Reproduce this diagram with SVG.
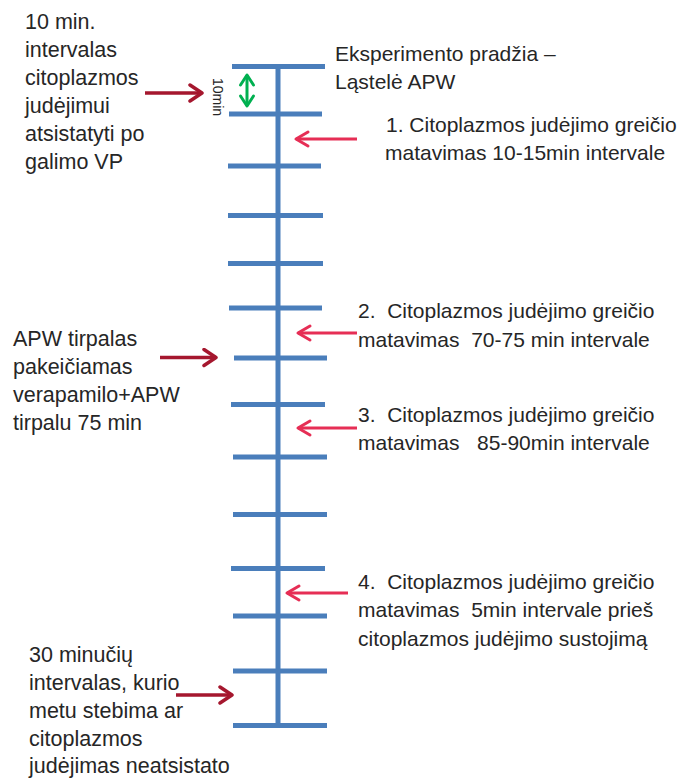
<svg xmlns="http://www.w3.org/2000/svg" width="685" height="778" viewBox="0 0 685 778">
<defs>
<style>
.t{font-family:"Liberation Sans",Arial,sans-serif;font-size:21px;fill:#262626;white-space:pre}
.tl{font-size:21.5px}
.tick{stroke:#4A7EBB;stroke-width:5;fill:none}
.dr{stroke:#A5172E;stroke-width:3.5;fill:none}
.pk{stroke:#E62E55;stroke-width:3;fill:none}
.gr{stroke:#00B050;stroke-width:3;fill:none}
</style>
<marker id="mdr" markerUnits="userSpaceOnUse" markerWidth="20" markerHeight="20" viewBox="-14 -10 16 20" refX="0" refY="0" orient="auto">
<path d="M-12,-8 L0,0 L-12,8" fill="none" stroke="#A5172E" stroke-width="3.5" stroke-linecap="round" stroke-linejoin="round"/>
</marker>
<marker id="mpk" markerUnits="userSpaceOnUse" markerWidth="20" markerHeight="20" viewBox="-14 -10 16 20" refX="0" refY="0" orient="auto">
<path d="M-12,-7 L0,0 L-12,7" fill="none" stroke="#E62E55" stroke-width="3" stroke-linecap="round" stroke-linejoin="round"/>
</marker>
<marker id="mgr" markerUnits="userSpaceOnUse" markerWidth="20" markerHeight="20" viewBox="-14 -10 16 20" refX="0" refY="0" orient="auto-start-reverse">
<path d="M-10,-6.5 L0,0 L-10,6.5" fill="none" stroke="#00B050" stroke-width="3" stroke-linecap="round" stroke-linejoin="round"/>
</marker>
</defs>
<rect width="685" height="778" fill="#ffffff"/>

<g id="timeline">
<line class="tick" x1="278" y1="66" x2="278" y2="726"/>
<line class="tick" x1="232" y1="66.5" x2="325" y2="66.5"/>
<line class="tick" x1="229" y1="114" x2="322" y2="114"/>
<line class="tick" x1="228" y1="166" x2="321" y2="166"/>
<line class="tick" x1="228" y1="215.5" x2="323" y2="215.5"/>
<line class="tick" x1="228" y1="263.5" x2="323" y2="263.5"/>
<line class="tick" x1="229" y1="308" x2="322" y2="308"/>
<line class="tick" x1="234" y1="358" x2="327" y2="358"/>
<line class="tick" x1="231" y1="404.5" x2="325" y2="404.5"/>
<line class="tick" x1="233" y1="457" x2="327" y2="457"/>
<line class="tick" x1="233" y1="514.5" x2="327" y2="514.5"/>
<line class="tick" x1="231" y1="568.5" x2="325" y2="568.5"/>
<line class="tick" x1="233" y1="616" x2="327" y2="616"/>
<line class="tick" x1="233" y1="671" x2="327" y2="671"/>
<line class="tick" x1="233" y1="725.5" x2="327" y2="725.5"/>
</g>

<g id="connectors">
<line class="gr" x1="247" y1="75" x2="247" y2="106" marker-start="url(#mgr)" marker-end="url(#mgr)"/>
<line class="dr" x1="145" y1="93" x2="202" y2="93" marker-end="url(#mdr)"/>
<line class="dr" x1="160" y1="357.5" x2="216" y2="357.5" marker-end="url(#mdr)"/>
<line class="dr" x1="176" y1="695" x2="232" y2="695" marker-end="url(#mdr)"/>
<line class="pk" x1="357" y1="139" x2="296" y2="139" marker-end="url(#mpk)"/>
<line class="pk" x1="357" y1="333" x2="298" y2="333" marker-end="url(#mpk)"/>
<line class="pk" x1="357" y1="428" x2="298" y2="428" marker-end="url(#mpk)"/>
<line class="pk" x1="348" y1="593" x2="287" y2="593" marker-end="url(#mpk)"/>
</g>

<g id="label-10min">
<text class="t" style="font-size:14px" transform="translate(213,78) rotate(90)">10min</text>
</g>

<g id="note-10min">
<text class="t tl" x="25" y="29">10 min.</text>
<text class="t tl" x="25" y="57">intervalas</text>
<text class="t tl" x="25" y="85">citoplazmos</text>
<text class="t tl" x="25" y="113">judėjimui</text>
<text class="t tl" x="25" y="141">atsistatyti po</text>
<text class="t tl" x="25" y="169">galimo VP</text>
</g>

<g id="note-start">
<text class="t" x="335" y="61">Eksperimento pradžia –</text>
<text class="t" x="335" y="89">Ląstelė APW</text>
</g>

<g id="note-1">
<text class="t" x="386" y="132">1. Citoplazmos judėjimo greičio</text>
<text class="t" x="385" y="160">matavimas 10-15min intervale</text>
</g>

<g id="note-2">
<text class="t" x="358" y="318">2.  Citoplazmos judėjimo greičio</text>
<text class="t" x="358" y="347">matavimas  70-75 min intervale</text>
</g>

<g id="note-apw">
<text class="t tl" x="13" y="346">APW tirpalas</text>
<text class="t tl" x="13" y="374">pakeičiamas</text>
<text class="t tl" x="13" y="402">verapamilo+APW</text>
<text class="t tl" x="13" y="430">tirpalu 75 min</text>
</g>

<g id="note-3">
<text class="t" x="358" y="422">3.  Citoplazmos judėjimo greičio</text>
<text class="t" x="358" y="450">matavimas   85-90min intervale</text>
</g>

<g id="note-4">
<text class="t" x="358" y="589">4.  Citoplazmos judėjimo greičio</text>
<text class="t" x="358" y="617">matavimas  5min intervale prieš</text>
<text class="t" x="358" y="646">citoplazmos judėjimo sustojimą</text>
</g>

<g id="note-30min">
<text class="t tl" x="29" y="662">30 minučių</text>
<text class="t tl" x="29" y="690">intervalas, kurio</text>
<text class="t tl" x="29" y="718">metu stebima ar</text>
<text class="t tl" x="29" y="746">citoplazmos</text>
<text class="t tl" x="29" y="773">judėjimas neatsistato</text>
</g>
</svg>
